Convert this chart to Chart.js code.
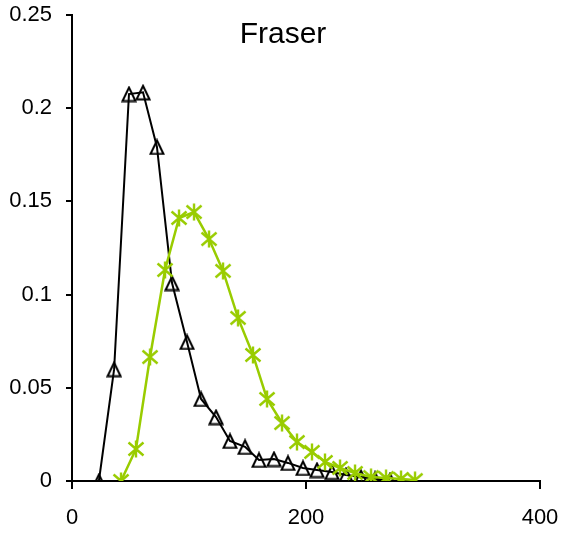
<!DOCTYPE html>
<html>
<head>
<meta charset="utf-8">
<title>Fraser</title>
<script src="https://cdn.jsdelivr.net/npm/chart.js@4/dist/chart.umd.min.js"></script>
<style>
  body { margin: 0; background: #fff; }
  canvas { display: block; }
</style>
</head>
<body>
<canvas id="myChart" width="562" height="533"></canvas>
<script>
// datos
const chartTitle = 'Fraser';

const blackX = [23, 36, 48.7, 60.7, 72.6, 85.5, 98.3, 110.3, 123.1, 135, 147.9, 159.8, 172.6, 184.6, 197.4, 209.4, 222.2, 234.2, 247, 259, 271.8];
const blackY = [0, 0.060, 0.2076, 0.2085, 0.1792, 0.1062, 0.0746, 0.0440, 0.0343, 0.0215, 0.0183, 0.0113, 0.0118, 0.0097, 0.0070, 0.0059, 0.0048, 0.0032, 0.0021, 0.0011, 0.0005];

const greenX = [41.9, 54.7, 66.7, 79.5, 91.5, 104.3, 117.1, 129.1, 141.9, 154.7, 166.7, 179.5, 192.3, 205.1, 216.2, 229.1, 241.9, 255.6, 268.4, 281.2, 293.2];
const greenY = [0, 0.0172, 0.0665, 0.1132, 0.1411, 0.1443, 0.1298, 0.1127, 0.0875, 0.0676, 0.0440, 0.0311, 0.0209, 0.0156, 0.0102, 0.0070, 0.0043, 0.0021, 0.0016, 0.0011, 0.0005];

const xTicks = [0, 200, 400];
const yTicks = [0, 0.05, 0.1, 0.15, 0.2, 0.25];
const yTickLabels = ['0', '0.05', '0.1', '0.15', '0.2', '0.25'];

const GREEN = '#99cc00';
const FONT = "'Liberation Sans', Arial, sans-serif";

// marcador tipo asterisco (X + barra vertical)
function makeStar(color) {
  const c = document.createElement('canvas');
  c.width = 18;
  c.height = 18;
  const g = c.getContext('2d');
  g.strokeStyle = color;
  g.lineWidth = 2.4;
  g.beginPath();
  g.moveTo(9, 0.5); g.lineTo(9, 17.5);
  g.moveTo(1.5, 2.5); g.lineTo(16.5, 15.5);
  g.moveTo(16.5, 2.5); g.lineTo(1.5, 15.5);
  g.stroke();
  return c;
}

// triangulo hueco, algo mas alto que ancho
function makeTriangle(color) {
  const c = document.createElement('canvas');
  c.width = 16;
  c.height = 17;
  const g = c.getContext('2d');
  g.strokeStyle = color;
  g.lineWidth = 2;
  g.lineJoin = 'miter';
  g.beginPath();
  g.moveTo(8, 2);
  g.lineTo(14.5, 15.5);
  g.lineTo(1.5, 15.5);
  g.closePath();
  g.stroke();
  return c;
}

const toPoints = (xs, ys) => xs.map((x, i) => ({ x: x, y: ys[i] }));

// sin relleno automatico, el area queda fija por layout.padding
const noPad = (scale) => {
  scale.paddingTop = 0;
  scale.paddingBottom = 0;
  scale.paddingLeft = 0;
  scale.paddingRight = 0;
};

// titulo dentro del area del grafico
const innerTitle = {
  id: 'innerTitle',
  afterDraw(chart) {
    const ctx = chart.ctx;
    ctx.save();
    ctx.font = '30px ' + FONT;
    ctx.fillStyle = '#000';
    ctx.textAlign = 'center';
    ctx.textBaseline = 'alphabetic';
    ctx.fillText(chartTitle, 283, 43);
    ctx.restore();
  }
};

const ctx = document.getElementById('myChart').getContext('2d');

new Chart(ctx, {
  type: 'scatter',
  data: {
    datasets: [
      {
        label: 'A',
        data: toPoints(blackX, blackY),
        showLine: true,
        borderColor: '#000',
        borderWidth: 2,
        pointStyle: makeTriangle('#000'),
        pointRadius: 8,
        order: 2,
      },
      {
        label: 'B',
        data: toPoints(greenX, greenY),
        showLine: true,
        borderColor: GREEN,
        borderWidth: 2.5,
        pointStyle: makeStar(GREEN),
        pointRadius: 9,
        order: 1,
      },
    ],
  },
  options: {
    responsive: false,
    animation: false,
    layout: { padding: { top: 15, right: 22, left: 0, bottom: 0 } },
    plugins: {
      legend: { display: false },
      tooltip: { enabled: false },
    },
    scales: {
      x: {
        type: 'linear',
        min: 0,
        max: 400,
        afterBuildTicks: (scale) => { scale.ticks = xTicks.map(v => ({ value: v })); },
        afterFit: (scale) => { scale.height = 52; noPad(scale); },
        border: { color: '#000', width: 2 },
        grid: { drawOnChartArea: false, drawTicks: true, tickLength: 8, color: '#000', lineWidth: 2 },
        ticks: {
          color: '#000',
          font: { family: FONT, size: 22 },
          padding: 16,
          maxRotation: 0,
          callback: (v) => String(v),
        },
      },
      y: {
        min: 0,
        max: 0.25,
        afterBuildTicks: (scale) => { scale.ticks = yTicks.map(v => ({ value: v })); },
        afterFit: (scale) => { scale.width = 72; noPad(scale); },
        border: { color: '#000', width: 2 },
        grid: { drawOnChartArea: false, drawTicks: true, tickLength: 6, color: '#000', lineWidth: 2 },
        ticks: {
          color: '#000',
          font: { family: FONT, size: 22 },
          padding: 14,
          callback: (v, i) => yTickLabels[i],
        },
      },
    },
  },
  plugins: [innerTitle],
});
</script>
</body>
</html>
